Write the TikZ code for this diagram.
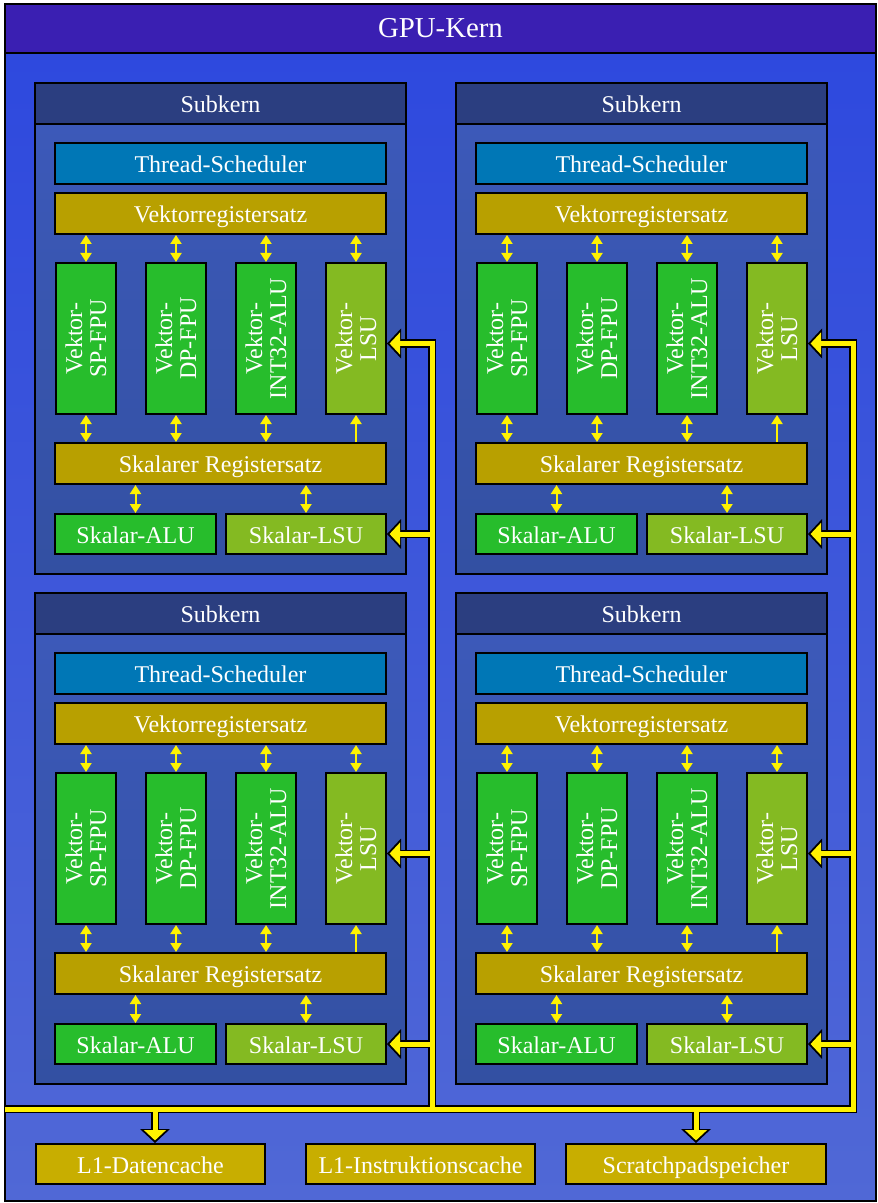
\documentclass[tikz,border=0pt]{standalone}
\usepackage{fontspec}
\setmainfont{Liberation Serif}
\usetikzlibrary{arrows.meta}

\definecolor{gpuhead}{HTML}{3A1FB2}
\definecolor{gputop}{HTML}{2E49DE}
\definecolor{gpubot}{HTML}{5068D6}
\definecolor{skhead}{HTML}{2B3E80}
\definecolor{sktop}{HTML}{3C59B9}
\definecolor{skbot}{HTML}{3350A2}
\definecolor{sched}{HTML}{0077B6}
\definecolor{regs}{HTML}{B8A000}
\definecolor{cachecol}{HTML}{C8AE00}
\definecolor{alugreen}{HTML}{27BD2C}
\definecolor{lsugreen}{HTML}{84BA22}

\begin{document}
\begin{tikzpicture}[x=0.5pt, y=-0.5pt, font=\fontsize{12}{12.5}\selectfont,
  box/.style={draw=black, line width=1pt, text=white, inner sep=0pt},
  textbox/.style={box, text height=9pt, text depth=0pt},
  headbox/.style={textbox, fill=skhead, minimum width=185.5pt, minimum height=20.5pt},
  barbox/.style={textbox, fill=#1, minimum width=165.5pt, minimum height=20.5pt},
  unitbox/.style={box, fill=#1, minimum width=30pt, minimum height=75.5pt},
  unitlabel/.style={rotate=90, align=center, text=white, inner sep=0pt, font=\fontsize{12}{12}\selectfont},
  scalbox/.style={textbox, fill=#1, minimum height=20pt},
  cachebox/.style={textbox, fill=cachecol, minimum height=20pt},
  flow/.style={draw=yellow, line width=1pt, {Triangle[length=4.5pt,width=5.5pt]}-{Triangle[length=4.5pt,width=5.5pt]}},
  flowup/.style={draw=yellow, line width=1pt, -{Triangle[length=4.5pt,width=5.5pt]}},
  busout/.style={draw=black, line width=4pt, -{Triangle[length=7pt,width=15pt,line width=0pt]}},
  busin/.style={draw=yellow, line width=2.5pt, shorten >=1.3pt, -{Triangle[length=5.2pt,width=11.1pt,line width=0pt]}}]
\useasboundingbox (0,0) rectangle (877,1203);

% GPU core
\shade[draw, line width=1pt, top color=gputop, bottom color=gpubot] (5,53) rectangle (876,1201);
\node[box, fill=gpuhead, minimum width=435.5pt, minimum height=24.5pt, font=\fontsize{14.4}{16}\selectfont] (gpu) at (440.5,28.5) {GPU-Kern};

% four sub cores
\foreach \sk/\dx/\dy in {A/0/0, B/421/0, C/0/510, D/421/510} {
  \begin{scope}[shift={(\dx,\dy)}]
    \shade[draw, line width=1pt, top color=sktop, bottom color=skbot] (35,124) rectangle (406,574);
    \node[headbox] (\sk-head) at (220.5,103.5) {Subkern};
    \node[barbox=sched] (\sk-ts) at (220.5,163.5) {Thread-Scheduler};
    \node[barbox=regs] (\sk-vr) at (220.5,213.5) {Vektorregistersatz};
    \foreach \u/\ux/\col/\txt in {sp/86/alugreen/{Vektor-\\SP-FPU}, dp/176/alugreen/{Vektor-\\DP-FPU},
        int/266/alugreen/{Vektor-\\INT32-ALU}, lsu/356/lsugreen/{Vektor-\\LSU}}
      \node[unitbox=\col, label={[unitlabel]center:\txt}] (\sk-\u) at (\ux,338.5) {};
    \node[barbox=regs] (\sk-sr) at (220.5,463.5) {Skalarer Registersatz};
    \node[scalbox=alugreen, minimum width=80.5pt] (\sk-alu) at (135.5,534) {Skalar-ALU};
    \node[scalbox=lsugreen, minimum width=80pt] (\sk-slsu) at (306,534) {Skalar-LSU};
    \coordinate (\sk-vin) at ([yshift=-2.5pt]\sk-lsu.east);
  \end{scope}
  \foreach \u in {sp,dp,int,lsu}
    \draw[flow] (\sk-vr.south -| \sk-\u) -- (\sk-\u.north);
  \foreach \u in {sp,dp,int}
    \draw[flow] (\sk-\u.south) -- (\sk-sr.north -| \sk-\u);
  \draw[flowup] (\sk-sr.north -| \sk-lsu) -- (\sk-lsu.south);
  \draw[flow] (\sk-sr.south -| \sk-alu) -- (\sk-alu.north);
  \draw[flow] (\sk-sr.south -| \sk-slsu) -- (\sk-slsu.north);
}

% caches
\node[cachebox, minimum width=114.5pt] (l1d) at (150.5,1164) {L1-Datencache};
\node[cachebox, minimum width=114.5pt] (l1i) at (420.5,1164) {L1-Instruktionscache};
\node[cachebox, minimum width=130pt] (spad) at (696,1164) {Scratchpadspeicher};

% load/store bus
\coordinate (busW) at (5,1109);
\coordinate (busM) at (432,1109);
\coordinate (busE) at (853,1109);
\coordinate (busD) at (155,1109);
\foreach \pass in {busout,busin} {
  \draw[\pass] (busW) -- (busE) |- (B-vin);
  \draw[\pass] (busM) |- (A-vin);
  \draw[\pass] (A-slsu.east -| busM) -- (A-slsu.east);
  \draw[\pass] (C-vin -| busM) -- (C-vin);
  \draw[\pass] (C-slsu.east -| busM) -- (C-slsu.east);
  \draw[\pass] (B-slsu.east -| busE) -- (B-slsu.east);
  \draw[\pass] (D-vin -| busE) -- (D-vin);
  \draw[\pass] (D-slsu.east -| busE) -- (D-slsu.east);
  \draw[\pass] (busD) -- (busD |- l1d.north);
  \draw[\pass] (spad.north |- busE) -- (spad.north);
}
\end{tikzpicture}
\end{document}
